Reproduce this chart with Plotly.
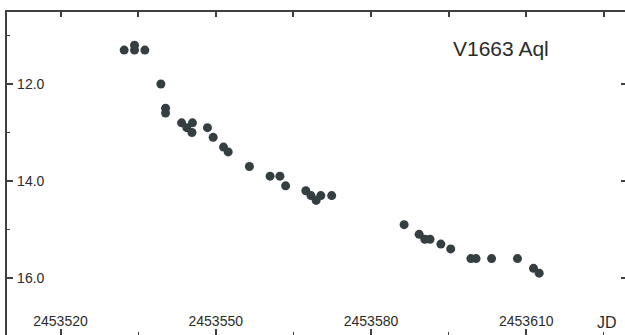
import plotly.graph_objects as go

# Light curve of Nova V1663 Aql (visual magnitudes vs Julian Date)
jd = [2453532.3, 2453534.3, 2453534.3, 2453536.3, 2453539.4, 2453540.3,
      2453540.3, 2453543.4, 2453544.4, 2453545.5, 2453545.4, 2453548.4,
      2453549.5, 2453551.5, 2453552.4, 2453556.5, 2453560.5, 2453562.4,
      2453563.5, 2453567.4, 2453568.4, 2453569.4, 2453570.3, 2453572.4,
      2453586.4, 2453589.3, 2453590.4, 2453591.4, 2453593.5, 2453595.4,
      2453599.3, 2453600.3, 2453603.3, 2453608.3, 2453611.4, 2453612.5]
mag = [11.30, 11.20, 11.30, 11.30, 12.00, 12.50,
       12.60, 12.80, 12.90, 12.80, 13.00, 12.90,
       13.10, 13.30, 13.40, 13.70, 13.90, 13.90,
       14.10, 14.20, 14.30, 14.40, 14.30, 14.30,
       14.90, 15.10, 15.20, 15.20, 15.30, 15.40,
       15.60, 15.60, 15.60, 15.60, 15.80, 15.90]

x_ticks = [2453520, 2453550, 2453580, 2453610]
x_labels = ["2453520", "2453550", "2453580", "2453610"]
y_ticks = [12.0, 14.0, 16.0]
y_labels = ["12.0", "14.0", "16.0"]

star_name = "V1663 Aql"
x_title = "JD"

x_range = [2453509.66, 2453629.08]
y_range = [17.175, 10.515]

axis_col = "#3f3f3f"
text_col = "#2b2b2b"
dot_col = "#353e40"
font_family = "Liberation Sans, Arial, Helvetica, sans-serif"

fig = go.Figure()
fig.add_trace(go.Scatter(
    x=jd, y=mag, mode="markers",
    marker=dict(size=9, color=dot_col, line=dict(width=0)),
    showlegend=False, hoverinfo="x+y",
))
# invisible trace carrying the top / right mirrored axes
fig.add_trace(go.Scatter(x=[x_range[0]], y=[y_range[0]], xaxis="x2", yaxis="y2",
                         mode="markers", marker=dict(opacity=0), showlegend=False,
                         hoverinfo="skip"))

fig.update_layout(
    width=625, height=335,
    margin=dict(l=7, r=0, t=12, b=0),
    paper_bgcolor="white", plot_bgcolor="white",
    font=dict(family=font_family, color=text_col, size=14),
    xaxis=dict(
        range=x_range, showgrid=False, zeroline=False, showline=False,
        tickmode="array", tickvals=x_ticks, ticktext=x_labels,
        ticks="inside", ticklen=6, tickwidth=1.5, tickcolor=axis_col,
        ticklabelposition="inside", tickfont=dict(size=14, color=text_col),
        minor=dict(tickmode="array", tickvals=[2453535, 2453565, 2453595, 2453625],
                   ticks="inside", ticklen=3, tickwidth=1.2, tickcolor=axis_col,
                   showgrid=False),
    ),
    yaxis=dict(
        range=y_range, showgrid=False, zeroline=False,
        showline=True, linecolor=axis_col, linewidth=1.8,
        tickmode="array", tickvals=y_ticks, ticktext=y_labels,
        ticks="inside", ticklen=6, tickwidth=1.5, tickcolor=axis_col,
        ticklabelposition="inside", ticklabelstandoff=4,
        tickfont=dict(size=14, color=text_col),
        minor=dict(tickmode="array", tickvals=[11.0, 13.0, 15.0, 17.0],
                   ticks="inside", ticklen=3, tickwidth=1.2, tickcolor=axis_col,
                   showgrid=False),
    ),
    xaxis2=dict(
        overlaying="x", side="top", range=x_range, showgrid=False, zeroline=False,
        showline=True, linecolor=axis_col, linewidth=1.8,
        tickmode="linear", tick0=2453520, dtick=15,
        ticks="inside", ticklen=5, tickwidth=1.5, tickcolor=axis_col,
        showticklabels=False,
    ),
    yaxis2=dict(
        overlaying="y", side="right", range=y_range, showgrid=False, zeroline=False,
        showline=False, tickmode="array", tickvals=y_ticks,
        ticks="inside", ticklen=4, tickwidth=1.5, tickcolor=axis_col,
        showticklabels=False,
    ),
    annotations=[
        dict(text=star_name, xref="paper", yref="paper", x=0.7184, y=0.8885,
             xanchor="left", yanchor="middle", showarrow=False,
             font=dict(size=21, color=text_col, family=font_family)),
        dict(text=x_title, xref="paper", yref="paper", x=0.971, y=0.04,
             xanchor="center", yanchor="middle", showarrow=False,
             font=dict(size=16, color=text_col, family=font_family)),
    ],
)

fig.write_html("out.html")
